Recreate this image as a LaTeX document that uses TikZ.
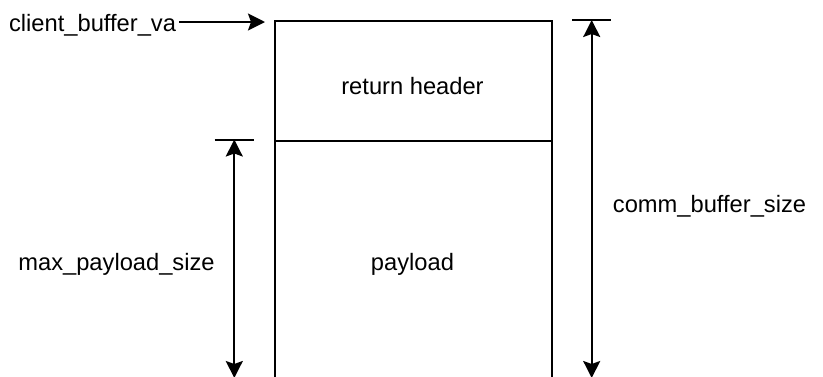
\documentclass[tikz,border=0pt]{standalone}
\usepackage{fontspec}
\setmainfont{Liberation Sans}
\usetikzlibrary{arrows.meta}
\begin{document}
\begin{tikzpicture}[x=1pt,y=-1pt,
  line width=2pt,
  lbl/.style={inner sep=0pt,anchor=base,font=\fontsize{23.7}{28}\selectfont},
  cell/.style={draw,line width=2pt,minimum width=277pt,inner sep=0pt,anchor=north west},
  arr/.style={-{Stealth[length=17pt,width=17pt,inset=3pt]}},
  darr/.style={{Stealth[length=17pt,width=17pt,inset=3pt]}-{Stealth[length=17pt,width=17pt,inset=3pt]}}]
\useasboundingbox (0,0) rectangle (823,376);
% cells
\node[cell,minimum height=119.5pt] (hdr) at (274,20) {};
\node[cell,minimum height=280pt] (pay) at (274,139.5) {};
\node[lbl] (hdrt) at (412.5,94) {return header};
\node[lbl] (payt) at (412.5,270) {payload};
% client_buffer_va
\node[lbl,anchor=base east] (cbv) at (177,31.7) {client\_buffer\_va};
\coordinate (cbvend) at (265,22);
\draw[arr] (cbv.east |- cbvend) ++(2,0) -- (cbvend);
% left dimension
\coordinate (lta) at (214.7,139.5);
\coordinate (ltb) at (254.3,139.5);
\draw (lta) -- (ltb);
\coordinate (la) at (234.3,139.5);
\coordinate (lb) at (234.3,378);
\draw[darr] (la) -- (lb);
\node[lbl] (mps) at (116.5,270) {max\_payload\_size};
% right dimension
\coordinate (rta) at (572,20);
\coordinate (rtb) at (611.3,20);
\draw (rta) -- (rtb);
\coordinate (ra) at (591.7,20);
\coordinate (rb) at (591.7,378);
\draw[darr] (ra) -- (rb);
\node[lbl] (cbs) at (709.5,212) {comm\_buffer\_size};
\end{tikzpicture}
\end{document}
